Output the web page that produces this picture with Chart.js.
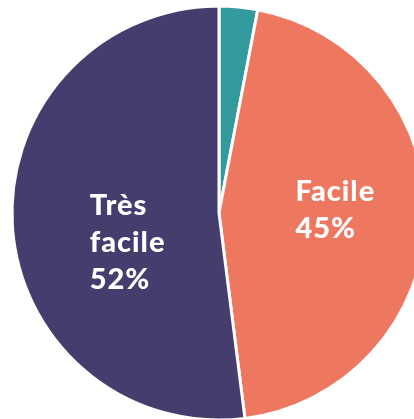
<!DOCTYPE html>
<html>
<head>
<meta charset="utf-8">
<script src="https://cdn.jsdelivr.net/npm/chart.js@4/dist/chart.umd.min.js"></script>
<style>
  html, body { margin: 0; padding: 0; background: #ffffff; overflow: hidden; width: 414px; height: 419px; }
  #wrap { position: relative; width: 414px; height: 419px; overflow: hidden; }
  canvas { position: absolute; left: 0; top: 0; }
</style>
</head>
<body>
<div id="wrap"><canvas id="c" width="438" height="426"></canvas></div>
<script>
const categories = ["Autre", "Facile", "Très facile"];
const values = [3, 45, 52];
const colors = ["#339a9e", "#ee7760", "#453d6e"];
const labelLines = [null, ["Facile", "45%"], ["Très", "facile", "52%"]];
const labelOffsets = [null, { dx: -27, dy: -15 }, { dx: -26, dy: -4 }];

const labelPlugin = {
  id: 'sliceLabels',
  afterDatasetsDraw(chart) {
    const ctx = chart.ctx;
    const meta = chart.getDatasetMeta(0);
    ctx.save();
    ctx.fillStyle = '#ffffff';
    ctx.font = '900 29px Lato, "Open Sans", sans-serif';
    if ('letterSpacing' in ctx) ctx.letterSpacing = '1px';
    ctx.textAlign = 'left';
    ctx.textBaseline = 'alphabetic';
    meta.data.forEach((arc, i) => {
      const lines = labelLines[i];
      if (!lines) return;
      const p = arc.tooltipPosition();
      const off = labelOffsets[i];
      lines.forEach((t, k) => {
        ctx.fillText(t, p.x + off.dx, p.y + off.dy + k * 37);
      });
    });
    ctx.restore();
  }
};

new Chart(document.getElementById('c'), {
  type: 'pie',
  data: {
    labels: categories,
    datasets: [{
      data: values,
      backgroundColor: colors,
      borderColor: '#ffffff',
      borderWidth: 3
    }]
  },
  options: {
    responsive: false,
    animation: false,
    radius: 207,
    layout: { padding: 0 },
    plugins: {
      legend: { display: false },
      tooltip: { enabled: false }
    }
  },
  plugins: [labelPlugin]
});
</script>
</body>
</html>
